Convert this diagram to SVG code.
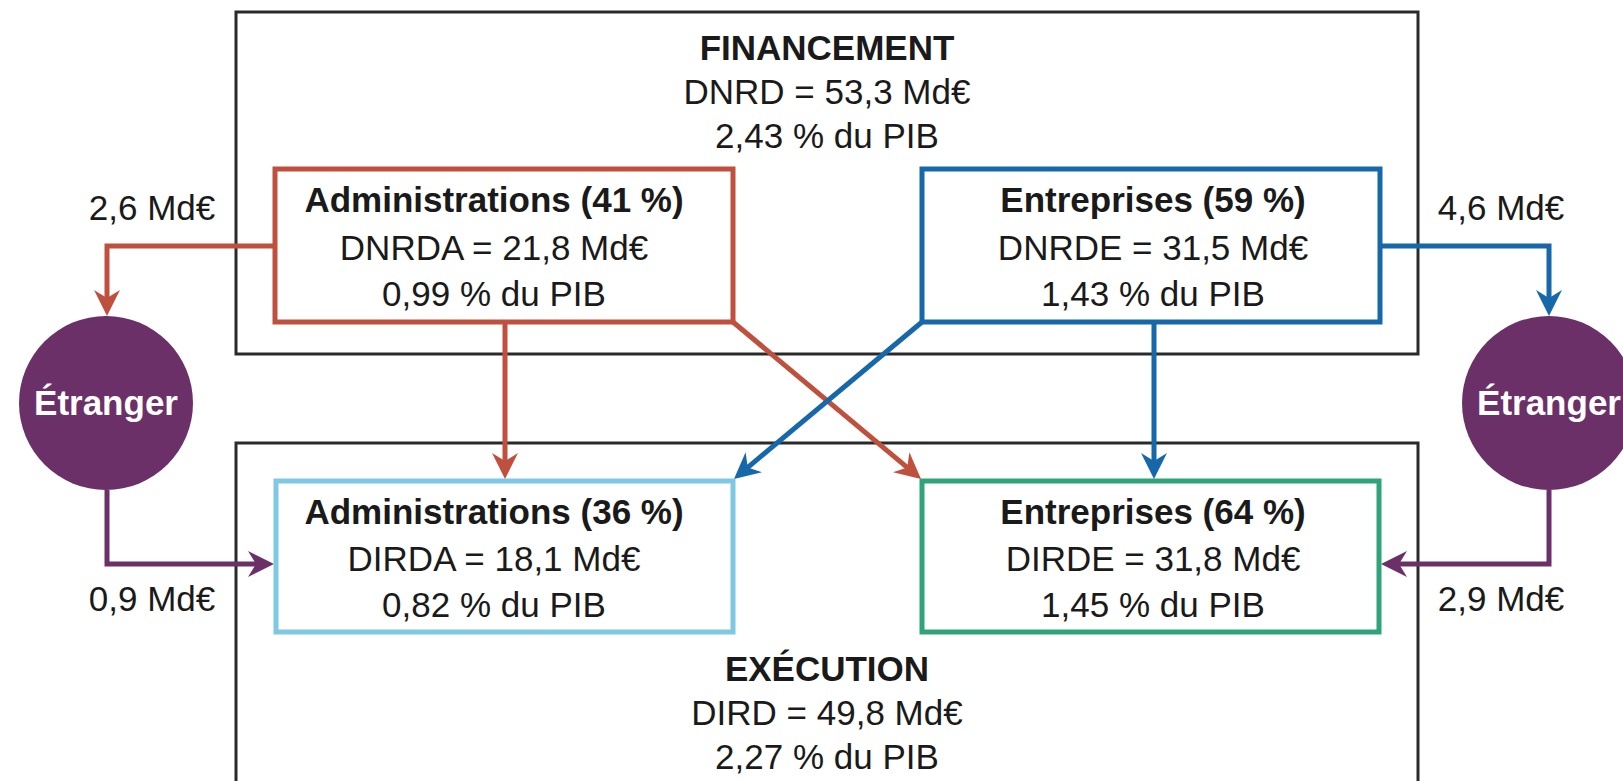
<svg xmlns="http://www.w3.org/2000/svg" width="1623" height="781" viewBox="0 0 1623 781">
<style>
text{font-family:"Liberation Sans",Arial,sans-serif;font-size:35px;fill:#1a1a1a;text-anchor:middle}
.b{font-weight:bold}
.w{fill:#ffffff;font-weight:bold}
.outer{fill:#ffffff;stroke:#2a2a2a;stroke-width:3}
.box{fill:#ffffff;stroke-width:5}
.c{fill:none;stroke-width:5}
.red{stroke:#c0503e}
.blue{stroke:#1767ab}
.purple{stroke:#6b3068}
</style>
<defs>
<marker id="ar" viewBox="0 0 26 26" markerWidth="26" markerHeight="26" refX="18" refY="13" orient="auto" markerUnits="userSpaceOnUse"><path d="M0,0 L26,13 L0,26 L8,13 z" fill="#c0503e"/></marker>
<marker id="ab" viewBox="0 0 26 26" markerWidth="26" markerHeight="26" refX="18" refY="13" orient="auto" markerUnits="userSpaceOnUse"><path d="M0,0 L26,13 L0,26 L8,13 z" fill="#1767ab"/></marker>
<marker id="ap" viewBox="0 0 26 26" markerWidth="26" markerHeight="26" refX="18" refY="13" orient="auto" markerUnits="userSpaceOnUse"><path d="M0,0 L26,13 L0,26 L8,13 z" fill="#6b3068"/></marker>
</defs>

<g id="financement">
<rect class="outer" x="236" y="12" width="1182" height="342"/>
<text class="b" x="827" y="60">FINANCEMENT</text>
<text x="827" y="104">DNRD = 53,3 Md€</text>
<text x="827" y="148">2,43 % du PIB</text>
</g>

<g id="execution">
<rect class="outer" x="236" y="443" width="1182" height="400"/>
<text class="b" x="827" y="681">EXÉCUTION</text>
<text x="827" y="725">DIRD = 49,8 Md€</text>
<text x="827" y="769">2,27 % du PIB</text>
</g>

<g id="connectors">
<path class="c red" d="M275,246 H107 V308" marker-end="url(#ar)"/>
<path class="c blue" d="M1380,246 H1549 V308" marker-end="url(#ab)"/>
<path class="c purple" d="M107,490 V564 H266" marker-end="url(#ap)"/>
<path class="c purple" d="M1549,490 V564 H1389" marker-end="url(#ap)"/>
<path class="c red" d="M505,322 V471" marker-end="url(#ar)"/>
<path class="c red" d="M733,322 L914.9,473.8" marker-end="url(#ar)"/>
<path class="c blue" d="M922,322 L740.1,473.8" marker-end="url(#ab)"/>
<path class="c blue" d="M1154,322 V471" marker-end="url(#ab)"/>
<text x="152" y="220">2,6 Md€</text>
<text x="1501" y="220">4,6 Md€</text>
<text x="152" y="611">0,9 Md€</text>
<text x="1501" y="611">2,9 Md€</text>
</g>

<g id="fin-admin">
<rect class="box red" x="275" y="169" width="458" height="153"/>
<text class="b" x="494" y="212">Administrations (41 %)</text>
<text x="494" y="260">DNRDA = 21,8 Md€</text>
<text x="494" y="306">0,99 % du PIB</text>
</g>

<g id="fin-entreprises">
<rect class="box blue" x="922" y="169" width="458" height="153"/>
<text class="b" x="1153" y="212">Entreprises (59 %)</text>
<text x="1153" y="260">DNRDE = 31,5 Md€</text>
<text x="1153" y="306">1,43 % du PIB</text>
</g>

<g id="exe-admin">
<rect class="box" stroke="#7fc8e3" x="276" y="481" width="457" height="151"/>
<text class="b" x="494" y="524">Administrations (36 %)</text>
<text x="494" y="571">DIRDA = 18,1 Md€</text>
<text x="494" y="617">0,82 % du PIB</text>
</g>

<g id="exe-entreprises">
<rect class="box" stroke="#2fa37a" x="922" y="481" width="457" height="151"/>
<text class="b" x="1153" y="524">Entreprises (64 %)</text>
<text x="1153" y="571">DIRDE = 31,8 Md€</text>
<text x="1153" y="617">1,45 % du PIB</text>
</g>

<g id="etranger-left">
<circle cx="106" cy="403" r="87" fill="#6b3068"/>
<text class="w" x="106" y="415">Étranger</text>
</g>

<g id="etranger-right">
<circle cx="1549" cy="403" r="87" fill="#6b3068"/>
<text class="w" x="1549" y="415">Étranger</text>
</g>
</svg>
